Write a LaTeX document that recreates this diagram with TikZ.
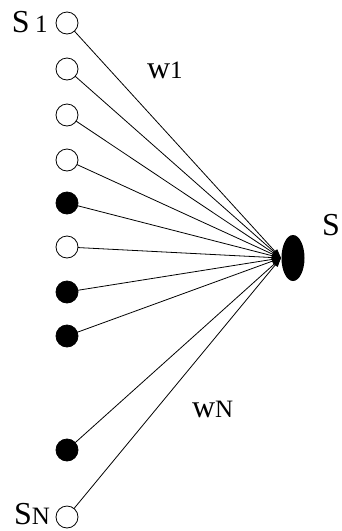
\documentclass[tikz,border=0pt]{standalone}
\usepackage{fontspec}
\setmainfont{Liberation Serif}
\usetikzlibrary{arrows.meta,shapes.geometric}
\tikzset{
  opencell/.style={circle,draw=black,line width=0.8pt,minimum size=22pt,inner sep=0pt,outer sep=0pt},
  fullcell/.style={circle,draw=black,fill=black,line width=0.8pt,minimum size=22pt,inner sep=0pt,outer sep=0pt},
  link/.style={line width=0.8pt,-{Triangle[length=9pt,width=6pt]}},
  lab/.style={anchor=base west,inner sep=0pt,outer sep=0pt},
}
\newcommand{\bigf}{\fontsize{32}{32}\selectfont}
\newcommand{\smallf}{\fontsize{25}{25}\selectfont}
\begin{document}
\begin{tikzpicture}[x=1pt,y=-1pt]
\useasboundingbox (0,0) rectangle (342,531);
\node[opencell] (s1) at (67,23) {};
\node[opencell] (s2) at (67,69) {};
\node[opencell] (s3) at (67,115) {};
\node[opencell] (s4) at (67,160) {};
\node[fullcell] (s5) at (67,203) {};
\node[opencell] (s6) at (67,247) {};
\node[fullcell] (s7) at (67,292) {};
\node[fullcell] (s8) at (67,336) {};
\node[fullcell] (s9) at (67,450) {};
\node[opencell] (s10) at (67,517) {};
\node[ellipse,fill=black,minimum width=23pt,minimum height=46pt,inner sep=0pt] (t) at (293,258) {};
\coordinate (tip) at (281,258);
\foreach \i in {1,...,10} {\draw[link] (s\i) -- (tip);}
\node[lab] (l1) at (12,32) {\bigf S\,\smallf 1};
\node[lab] (lN) at (14,524) {\bigf S\smallf N};
\node[lab] (lw1) at (147,78) {\bigf w\smallf 1};
\node[lab] (lwN) at (192,417) {\bigf w\smallf N};
\node[lab] (lS) at (322,235) {\bigf S};
\end{tikzpicture}
\end{document}
